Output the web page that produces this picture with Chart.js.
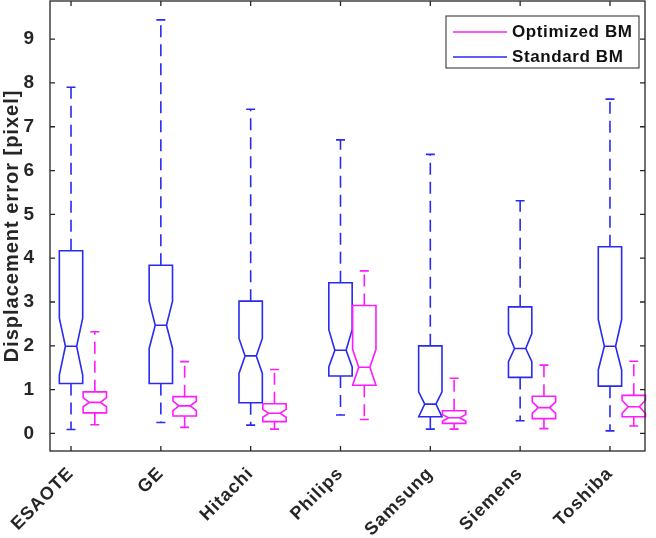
<!DOCTYPE html>
<html>
<head>
<meta charset="utf-8">
<script src="https://cdn.jsdelivr.net/npm/chart.js@4/dist/chart.umd.min.js"></script>
<style>
  body { margin: 0; background: #fff; }
  canvas { display: block; }
</style>
</head>
<body>
<canvas id="myChart" width="656" height="538"></canvas>
<script>
// categories and tick values
const categories = ['ESAOTE', 'GE', 'Hitachi', 'Philips', 'Samsung', 'Siemens', 'Toshiba'];
const xTicks = [1, 2, 3, 4, 5, 6, 7];
const yTicks = [0, 1, 2, 3, 4, 5, 6, 7, 8, 9];

// Standard BM (blue)
const stdLow      = [0.09, 0.25, 0.19, 0.42, 0.10, 0.29, 0.06];
const stdQ1       = [1.14, 1.14, 0.70, 1.31, 0.38, 1.28, 1.08];
const stdNotchLo  = [1.33, 1.94, 1.37, 1.52, 0.38, 1.64, 1.45];
const stdMedian   = [1.99, 2.47, 1.77, 1.90, 0.67, 1.94, 1.99];
const stdNotchHi  = [2.63, 3.02, 2.17, 2.37, 0.95, 2.28, 2.60];
const stdQ3       = [4.17, 3.84, 3.02, 3.44, 2.00, 2.89, 4.26];
const stdHigh     = [7.90, 9.44, 7.40, 6.70, 6.37, 5.31, 7.63];

// Optimized BM (magenta)
const optLow      = [0.20, 0.14, 0.10, 0.32, 0.10, 0.11, 0.17];
const optQ1       = [0.47, 0.40, 0.27, 1.10, 0.23, 0.34, 0.38];
const optNotchLo  = [0.61, 0.52, 0.37, 1.10, 0.28, 0.46, 0.46];
const optMedian   = [0.71, 0.63, 0.46, 1.51, 0.36, 0.59, 0.61];
const optNotchHi  = [0.82, 0.74, 0.55, 1.92, 0.43, 0.72, 0.76];
const optQ3       = [0.95, 0.84, 0.68, 2.92, 0.52, 0.85, 0.87];
const optHigh     = [2.32, 1.64, 1.46, 3.71, 1.26, 1.56, 1.65];

const BLUE = '#2a2af0';
const MAGENTA = '#ff1aff';
const AXIS = '#262626';
const FONT = 'Liberation Sans, Arial, sans-serif';

function makeBoxes(xs, low, q1, nlo, med, nhi, q3, high) {
    return xs.map(function(x, i) {
        return {x: x, low: low[i], q1: q1[i], nlo: nlo[i], med: med[i], nhi: nhi[i], q3: q3[i], high: high[i]};
    });
}

const stdX = xTicks.map(function(v) {return v;});
const optX = xTicks.map(function(v) {return v + 0.265;});

// the reference text is a little wider spaced than plain Arial
const spacingPlugin = {
    id: 'spacing',
    beforeLayout(chart) {chart.ctx.letterSpacing = '1px';},
    beforeDraw(chart) {chart.ctx.letterSpacing = '1px';}
};

const boxPlugin = {
    id: 'boxes',
    afterDatasetsDraw(chart) {
        const ctx = chart.ctx;
        const xs = chart.scales.x, ys = chart.scales.y;
        const area = chart.chartArea;
        const boxW = 0.26, capW = 0.1;
        chart.data.datasets.forEach(function(ds) {
            ctx.save();
            ctx.strokeStyle = ds.borderColor;
            ctx.lineWidth = 1.6;
            ds.boxes.forEach(function(b) {
                const l = xs.getPixelForValue(b.x - boxW / 2);
                const r = xs.getPixelForValue(b.x + boxW / 2);
                const c = xs.getPixelForValue(b.x);
                const ind = (r - l) * 0.26;
                const cl = xs.getPixelForValue(b.x - capW / 2);
                const cr = xs.getPixelForValue(b.x + capW / 2);
                const y = function(v) {return ys.getPixelForValue(v);};
                // whiskers
                ctx.setLineDash([12, 7]);
                ctx.beginPath();
                ctx.moveTo(c, y(b.q3)); ctx.lineTo(c, y(b.high));
                ctx.moveTo(c, y(b.q1)); ctx.lineTo(c, y(b.low));
                ctx.stroke();
                ctx.setLineDash([]);
                ctx.beginPath();
                ctx.moveTo(cl, y(b.high)); ctx.lineTo(cr, y(b.high));
                ctx.moveTo(cl, y(b.low)); ctx.lineTo(cr, y(b.low));
                ctx.stroke();
                // notched box
                ctx.beginPath();
                ctx.moveTo(l, y(b.q1));
                ctx.lineTo(l, y(b.nlo));
                ctx.lineTo(l + ind, y(b.med));
                ctx.lineTo(l, y(b.nhi));
                ctx.lineTo(l, y(b.q3));
                ctx.lineTo(r, y(b.q3));
                ctx.lineTo(r, y(b.nhi));
                ctx.lineTo(r - ind, y(b.med));
                ctx.lineTo(r, y(b.nlo));
                ctx.lineTo(r, y(b.q1));
                ctx.closePath();
                ctx.moveTo(l + ind, y(b.med));
                ctx.lineTo(r - ind, y(b.med));
                ctx.stroke();
            });
            ctx.restore();
        });

        // axes box with inward ticks
        ctx.save();
        ctx.strokeStyle = AXIS;
        ctx.lineWidth = 1.3;
        ctx.strokeRect(area.left, area.top, area.right - area.left, area.bottom - area.top);
        ctx.beginPath();
        yTicks.forEach(function(v) {
            const py = ys.getPixelForValue(v);
            ctx.moveTo(area.left, py); ctx.lineTo(area.left + 5, py);
            ctx.moveTo(area.right, py); ctx.lineTo(area.right - 5, py);
        });
        xTicks.forEach(function(v) {
            const px = xs.getPixelForValue(v);
            ctx.moveTo(px, area.bottom); ctx.lineTo(px, area.bottom - 5);
            ctx.moveTo(px, area.top); ctx.lineTo(px, area.top + 5);
        });
        ctx.stroke();

        // legend inside the axes, top right
        const lx = area.right - 199, ly = area.top + 15, lw = 193, lh = 52;
        ctx.fillStyle = '#fff';
        ctx.fillRect(lx, ly, lw, lh);
        ctx.strokeStyle = AXIS;
        ctx.lineWidth = 1;
        ctx.strokeRect(lx, ly, lw, lh);
        const order = [chart.data.datasets[1], chart.data.datasets[0]];
        ctx.font = 'bold 17px ' + FONT;
        ctx.letterSpacing = '0.6px';
        ctx.textBaseline = 'middle';
        order.forEach(function(ds, i) {
            const yy = ly + 16 + i * 25;
            ctx.strokeStyle = ds.borderColor;
            ctx.lineWidth = 1.4;
            ctx.beginPath();
            ctx.moveTo(lx + 7, yy); ctx.lineTo(lx + 61, yy);
            ctx.stroke();
            ctx.fillStyle = '#111';
            ctx.fillText(ds.label, lx + 66, yy);
        });
        ctx.restore();
    }
};

const chart = new Chart(document.getElementById('myChart'), {
    type: 'scatter',
    data: {
        datasets: [
            {
                label: 'Standard BM',
                data: stdX.map(function(x, i) {return {x: x, y: stdMedian[i]};}),
                borderColor: BLUE,
                pointRadius: 0,
                boxes: makeBoxes(stdX, stdLow, stdQ1, stdNotchLo, stdMedian, stdNotchHi, stdQ3, stdHigh)
            },
            {
                label: 'Optimized BM',
                data: optX.map(function(x, i) {return {x: x, y: optMedian[i]};}),
                borderColor: MAGENTA,
                pointRadius: 0,
                boxes: makeBoxes(optX, optLow, optQ1, optNotchLo, optMedian, optNotchHi, optQ3, optHigh)
            }
        ]
    },
    options: {
        responsive: false,
        animation: false,
        layout: {padding: {top: 1, right: 11, left: 0, bottom: 0}},
        plugins: {legend: {display: false}, tooltip: {enabled: false}},
        scales: {
            x: {
                type: 'linear',
                min: 0.766,
                max: 7.39,
                grid: {display: false},
                border: {display: false},
                afterBuildTicks: function(s) {s.ticks = xTicks.map(function(v) {return {value: v};});},
                afterFit: function(s) {s.height = 87; s.paddingLeft = 0; s.paddingRight = 0;},
                ticks: {
                    autoSkip: false,
                    minRotation: 45,
                    maxRotation: 45,
                    padding: 4,
                    color: AXIS,
                    font: {family: FONT, size: 18, weight: 'bold'},
                    callback: function(v) {return categories[v - 1];}
                }
            },
            y: {
                min: -0.4,
                max: 9.87,
                grid: {display: false},
                border: {display: false},
                afterBuildTicks: function(s) {s.ticks = yTicks.map(function(v) {return {value: v};});},
                afterFit: function(s) {s.width = 50; s.paddingTop = 0; s.paddingBottom = 0;},
                title: {
                    display: true,
                    text: 'Displacement error [pixel]',
                    color: AXIS,
                    padding: 0,
                    font: {family: FONT, size: 20, weight: 'bold'}
                },
                ticks: {
                    padding: 7,
                    color: AXIS,
                    font: {family: FONT, size: 19, weight: 'bold'}
                }
            }
        }
    },
    plugins: [spacingPlugin, boxPlugin]
});
</script>
</body>
</html>
